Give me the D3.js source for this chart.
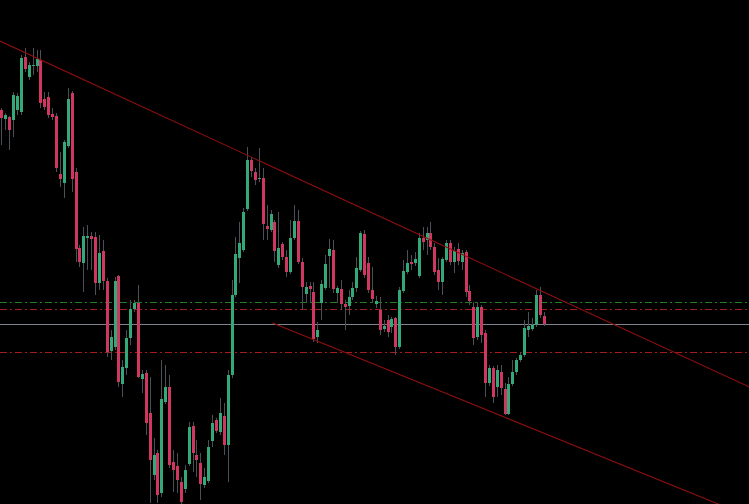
<!DOCTYPE html>
<html><head><meta charset="utf-8">
<script src="https://cdn.jsdelivr.net/npm/d3@7/dist/d3.min.js"></script>
<style>html,body{margin:0;padding:0;background:#000;overflow:hidden}svg{display:block}</style>
</head><body><svg id="c" width="749" height="504"></svg>
<script>
// price in points (x 1e-4)
const open  = [11890,11881,11883,11880,11890,11888,11943,11923,11934,11934,11940,11901,11903,11886,11884,11826,11817,11854,11907,11828,
11752,11737,11762,11764,11763,11717,11749,11719,11649,11653,11724,11616,11632,11662,11691,11697,11621,11627,11587,11525,
11547,11507,11598,11613,11538,11534,11518,11511,11536,11574,11545,11537,11515,11519,11559,11580,11568,11584,11555,11625,
11705,11742,11750,11791,11840,11828,11821,11822,11774,11770,11778,11735,11756,11743,11728,11762,11779,11738,11706,11714,
11708,11663,11697,11712,11744,11750,11707,11711,11696,11694,11703,11712,11730,11766,11737,11710,11696,11690,11671,11680,
11673,11682,11653,11709,11728,11738,11737,11724,11762,11760,11767,11753,11730,11718,11740,11757,11738,11751,11738,11748,
11709,11693,11663,11693,11667,11617,11632,11613,11628,11611,11586,11616,11628,11640,11645,11670,11671,11675,11705,11684];
const close = [11882,11885,11870,11905,11904,11942,11931,11935,11935,11941,11897,11893,11885,11883,11832,11821,11858,11901,11821,11751,
11738,11764,11764,11761,11717,11747,11719,11648,11663,11719,11618,11633,11662,11691,11697,11623,11626,11577,11540,11545,
11505,11601,11613,11535,11530,11520,11498,11530,11573,11547,11540,11516,11523,11553,11577,11569,11587,11555,11625,11705,
11746,11757,11788,11840,11829,11820,11822,11776,11771,11786,11749,11752,11743,11728,11762,11779,11738,11713,11713,11711,
11661,11670,11716,11736,11751,11711,11712,11696,11693,11703,11712,11732,11767,11725,11710,11701,11699,11670,11674,11668,
11681,11653,11710,11729,11737,11736,11741,11762,11758,11767,11753,11728,11718,11741,11757,11738,11749,11739,11747,11708,
11699,11662,11693,11665,11617,11632,11603,11630,11612,11586,11616,11628,11640,11645,11672,11674,11675,11705,11685,11676];
const high  = [11892,11887,11884,11908,11907,11945,11952,11938,11952,11950,11950,11908,11908,11892,11887,11848,11860,11912,11909,11832,
11755,11773,11775,11768,11768,11765,11760,11722,11670,11723,11725,11640,11670,11700,11700,11715,11630,11630,11623,11562,
11550,11640,11635,11625,11550,11547,11523,11535,11578,11578,11560,11547,11532,11560,11585,11582,11602,11597,11630,11720,
11763,11778,11792,11853,11843,11832,11852,11832,11795,11790,11780,11788,11758,11750,11780,11795,11790,11742,11718,11718,
11718,11678,11720,11745,11761,11760,11714,11720,11700,11710,11718,11743,11769,11770,11743,11733,11704,11703,11680,11685,
11683,11683,11713,11740,11750,11745,11748,11767,11773,11773,11778,11757,11742,11743,11760,11760,11753,11757,11750,11750,
11715,11698,11698,11695,11670,11635,11634,11635,11635,11617,11623,11640,11642,11648,11680,11688,11682,11710,11713,11688];
const low   = [11855,11870,11850,11863,11885,11885,11928,11920,11925,11928,11892,11890,11882,11880,11828,11813,11802,11852,11808,11738,
11733,11708,11730,11730,11705,11710,11710,11643,11640,11650,11613,11603,11625,11655,11688,11622,11607,11565,11497,11520,
11497,11503,11596,11532,11508,11507,11496,11507,11534,11528,11523,11500,11512,11517,11553,11567,11565,11545,11518,11622,
11703,11717,11748,11789,11823,11815,11818,11760,11760,11768,11738,11732,11740,11723,11726,11760,11736,11690,11697,11698,
11658,11657,11680,11710,11712,11707,11697,11690,11670,11685,11700,11708,11728,11722,11707,11697,11692,11665,11668,11663,
11667,11645,11651,11707,11726,11730,11734,11722,11750,11745,11750,11725,11710,11705,11738,11735,11727,11735,11730,11703,
11695,11655,11660,11657,11603,11614,11597,11603,11605,11585,11585,11614,11625,11638,11643,11663,11669,11673,11682,11674];

// horizontal levels
const levelPrices = [11698, 11691, 11676, 11648];
const levelKinds  = ["green", "red", "gray", "red"];
// trend lines: anchors as [bar, price]
const trendUpper = [[0, 11958], [135, 11715]];
const trendLower = [[69.4, 11677], [130, 11581]];

const W = 749, H = 504;
const n = open.length;
const bars = d3.range(n);
const svg = d3.select("#c");
svg.append("rect").attr("width", W).attr("height", H).attr("fill", "#000");

const xBand = d3.scaleBand().domain(bars).range([0, 546]).paddingInner(0).paddingOuter(0);
const xLin = d3.scaleLinear().domain([0, n - 1]).range([xBand(0) + xBand.bandwidth()/2, xBand(n-1) + xBand.bandwidth()/2]);
const y = d3.scaleLinear().domain([12000, 11496]).range([0, H]);

const levelStyle = {
  green: {stroke: "#1f7f22", dash: "7,3,2,3"},
  red:   {stroke: "#a51c1c", dash: "7,3,2,3"},
  gray:  {stroke: "#7d828c", dash: null}
};
levelPrices.forEach((p, i) => {
  const st = levelStyle[levelKinds[i]];
  const yy = Math.round(y(p)) + 0.5;
  const l = svg.append("line").attr("x1", 0).attr("x2", W).attr("y1", yy).attr("y2", yy)
    .attr("stroke", st.stroke).attr("stroke-width", 1);
  if (st.dash) l.attr("stroke-dasharray", st.dash);
});

function trend(anchors, fromLeftEdge) {
  const [a, b] = anchors;
  const x1 = xLin(a[0]), y1 = y(a[1]), x2 = xLin(b[0]), y2 = y(b[1]);
  const k = (y2 - y1) / (x2 - x1);
  const xs = fromLeftEdge ? 0 : x1;
  const xe = W;
  svg.append("line").attr("x1", xs).attr("y1", y1 + k * (xs - x1))
    .attr("x2", xe).attr("y2", y1 + k * (xe - x1))
    .attr("stroke", "#8e0f0f").attr("stroke-width", 1.1);
}

const up = "#33a878", down = "#cf3760", wick = "#4b5058";
const g = svg.append("g").attr("shape-rendering", "crispEdges");
bars.forEach(i => {
  const cx = xLin(i);
  const left = Math.round(cx - 1.5);
  const isUp = close[i] >= open[i];
  g.append("rect").attr("x", left + 1).attr("width", 1)
    .attr("y", Math.round(y(high[i]))).attr("height", Math.max(1, Math.round(y(low[i])) - Math.round(y(high[i]))))
    .attr("fill", wick);
  const top = Math.round(y(Math.max(open[i], close[i])));
  const bot = Math.round(y(Math.min(open[i], close[i])));
  g.append("rect").attr("x", left).attr("width", 3)
    .attr("y", top).attr("height", Math.max(1, bot - top))
    .attr("fill", isUp ? up : down);
});

trend(trendUpper, true);
trend(trendLower, false);
</script></body></html>
